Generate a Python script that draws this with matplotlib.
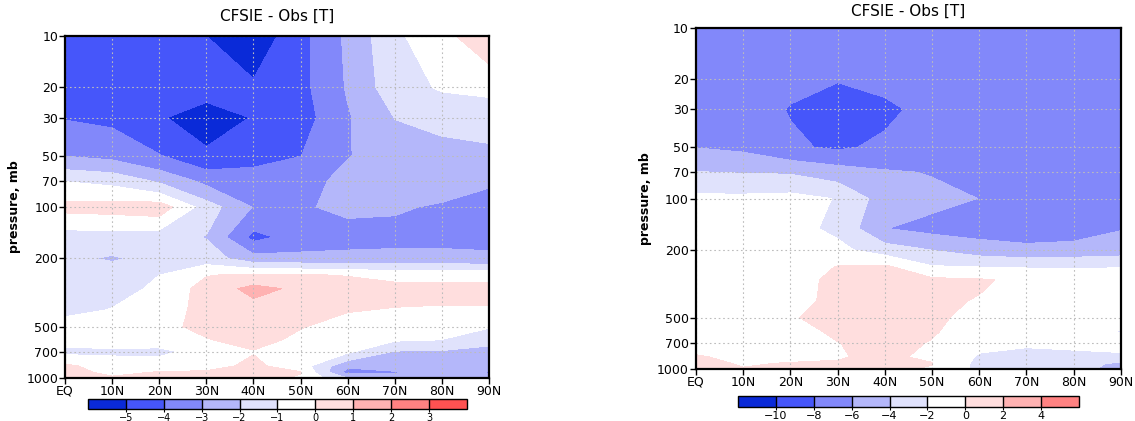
import numpy as np
import matplotlib.pyplot as plt
from matplotlib.colors import ListedColormap, BoundaryNorm
from matplotlib.ticker import NullLocator

# grid of the zonal-mean cross sections
lats = [0, 10, 20, 30, 40, 50, 60, 70, 80, 90]
plev = [1000, 925, 850, 700, 600, 500, 400, 300, 250, 200, 150, 100, 70, 50, 30, 20, 10]

lat_labels = ['EQ', '10N', '20N', '30N', '40N', '50N', '60N', '70N', '80N', '90N']
p_ticks = [1000, 700, 500, 200, 100, 70, 50, 30, 20, 10]

# left panel, CFSIE - Obs temperature difference (rows follow plev)
left_T = [
    [0.3, 0.1, 0.2, 0.2, 0.3, -0.1, -2.0, -2.5, -2.3, -2.5],
    [0.3, -0.2, 0.05, 0.1, 0.2, 0.05, -3.4, -3.1, -2.7, -3.1],
    [0.2, -0.5, -0.4, -0.3, 0.2, -0.5, -2.8, -2.5, -2.3, -2.4],
    [-1.3, -1.2, -1.3, -0.5, -0.05, -0.5, -0.8, -2.05, -2.1, -2.2],
    [-0.5, -0.5, -0.4, -0.05, 0.3, -0.2, -0.7, -0.9, -1.02, -1.8],
    [-0.5, -0.4, -0.2, 0.2, 0.4, 0.05, -0.3, -0.4, -0.6, -0.9],
    [-1.3, -0.95, -0.6, 0.4, 0.6, 0.4, 0.05, -0.05, -0.1, -0.1],
    [-1.5, -1.4, -0.8, 0.4, 1.3, 0.8, 0.5, 0.3, 0.3, 0.3],
    [-1.6, -1.5, -1.0, -0.05, 0.2, 0.1, -0.05, -0.3, -0.3, -0.3],
    [-1.8, -2.1, -1.7, -1.5, -2.6, -2.7, -2.7, -2.7, -2.7, -2.8],
    [-1.5, -1.5, -1.6, -2.05, -4.3, -3.6, -3.4, -3.3, -3.3, -3.3],
    [0.3, 0.4, 0.6, -1.5, -3.05, -3.1, -2.8, -2.9, -3.1, -3.3],
    [-1.05, -1.3, -2.2, -3.3, -3.6, -3.4, -2.7, -2.6, -2.6, -2.9],
    [-3.05, -3.3, -3.95, -4.8, -4.3, -4.02, -3.05, -2.5, -2.4, -2.3],
    [-4.05, -4.2, -4.9, -5.5, -4.95, -4.45, -3.1, -1.98, -1.7, -1.5],
    [-4.6, -4.6, -4.7, -4.6, -4.8, -4.3, -2.9, -1.4, -0.9, -0.8],
    [-4.5, -4.5, -4.6, -5.0, -5.7, -4.3, -2.8, -1.2, -0.3, 0.7],
]

# right panel
right_T = [
    [0.3, 0.05, 0.1, 0.2, 0.2, -0.1, -2.5, -2.8, -3.5, -4.5],
    [0.3, -0.1, 0.05, 0.1, 0.3, 0.05, -2.5, -2.8, -3.6, -4.2],
    [0.2, -0.5, -0.3, -0.1, 0.3, -0.3, -2.2, -2.4, -2.3, -2.1],
    [-1.0, -0.9, -0.8, -0.02, 0.3, -0.05, -1.5, -1.8, -1.7, -1.8],
    [-1.0, -0.9, -0.4, 0.2, 0.4, 0.1, -0.5, -1.3, -1.5, -2.05],
    [-1.0, -0.8, -0.1, 0.4, 0.5, 0.3, -0.5, -1.0, -1.2, -1.4],
    [-1.0, -0.8, -0.5, 0.4, 0.6, 0.3, -0.1, -0.8, -1.0, -1.0],
    [-1.0, -0.9, -0.8, 0.5, 0.6, 0.4, 0.2, -0.4, -1.0, -1.0],
    [-1.0, -0.9, -0.8, 0.05, 0.3, -1.9, -2.1, -2.2, -2.2, -2.1],
    [-1.3, -1.2, -1.1, -1.5, -3.0, -4.05, -5.0, -5.5, -5.3, -5.0],
    [-1.5, -1.4, -1.4, -2.4, -5.95, -6.6, -6.9, -7.0, -6.9, -6.1],
    [-1.5, -1.5, -1.3, -2.1, -5.0, -5.5, -6.02, -6.8, -6.8, -6.9],
    [-3.95, -4.1, -4.2, -5.0, -5.8, -6.1, -6.8, -7.0, -7.0, -7.0],
    [-6.05, -6.4, -7.7, -8.3, -7.6, -7.3, -7.3, -7.3, -7.3, -7.3],
    [-7.0, -7.2, -8.1, -9.0, -8.4, -7.4, -7.2, -7.2, -7.2, -7.2],
    [-7.1, -7.2, -7.6, -7.9, -7.5, -7.2, -7.1, -7.1, -7.1, -7.1],
    [-7.0, -7.0, -7.0, -7.0, -7.0, -7.0, -7.0, -7.0, -7.0, -7.0],
]

left_levels = [-5, -4, -3, -2, -1, 0, 1, 2, 3]
left_colors = ['#0a2ad8', '#4656fa', '#8288fa', '#b4b7fa', '#e0e2fc',
               '#ffffff', '#ffdede', '#ffb2b2', '#ff8282', '#ff5252']

right_levels = [-10, -8, -6, -4, -2, 0, 2, 4]
right_colors = ['#0a2ad8', '#4656fa', '#8288fa', '#b4b7fa', '#e0e2fc',
                '#ffffff', '#ffdede', '#ffb2b2', '#ff8282']

title = 'CFSIE - Obs [T]'


def draw_panel(fig, ax_rect, cax_rect, data, levels, colors, cb_fs, title_pad):
    ax = fig.add_axes(ax_rect)
    cmap = ListedColormap(colors[1:-1])
    cmap.set_under(colors[0])
    cmap.set_over(colors[-1])
    norm = BoundaryNorm(levels, cmap.N)

    cs = ax.contourf(lats, plev, np.array(data), levels=levels,
                     cmap=cmap, norm=norm, extend='both')

    ax.set_yscale('log')
    ax.set_ylim(1000, 10)
    ax.set_xlim(0, 90)
    ax.set_yticks(p_ticks)
    ax.set_yticklabels([str(p) for p in p_ticks])
    ax.yaxis.set_minor_locator(NullLocator())
    ax.set_xticks(lats)
    ax.set_xticklabels(lat_labels)
    ax.tick_params(direction='out', length=4, width=1, labelsize=9, pad=1)
    ax.grid(True, color='#bcbcbc', linestyle=(0, (1.5, 2.5)), linewidth=0.8)
    for s in ax.spines.values():
        s.set_linewidth(1.6)
    ax.set_ylabel('pressure, mb', fontsize=9, fontweight='bold', labelpad=4)
    ax.set_title(title, fontsize=11, pad=title_pad)

    cax = fig.add_axes(cax_rect)
    cb = fig.colorbar(cs, cax=cax, orientation='horizontal', extendrect=True,
                      extendfrac='auto', drawedges=True, ticks=levels)
    cb.outline.set_linewidth(1.0)
    cb.dividers.set_linewidth(1.0)
    cb.ax.tick_params(length=2, labelsize=cb_fs, pad=1)
    return ax


fig = plt.figure(figsize=(11.35, 4.21), dpi=100)

draw_panel(fig, [0.0573, 0.1021, 0.3736, 0.8124], [0.0775, 0.0285, 0.3339, 0.0238],
           left_T, left_levels, left_colors, 7, 11)
draw_panel(fig, [0.6132, 0.1235, 0.3744, 0.8100], [0.6502, 0.0333, 0.3004, 0.026],
           right_T, right_levels, right_colors, 8, 9)

fig.savefig('out.png', dpi=100)
